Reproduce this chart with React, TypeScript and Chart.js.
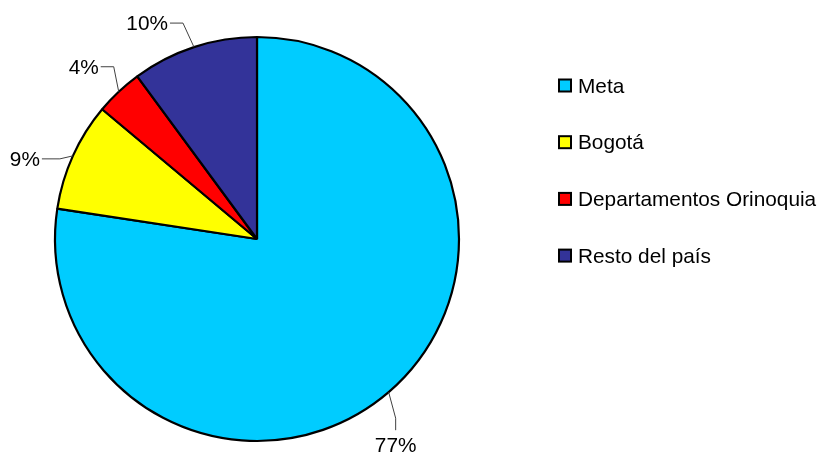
import React, { useEffect, useRef } from "react";
import { Chart, registerables } from "chart.js";

Chart.register(...registerables);

const categories = ["Meta", "Bogotá", "Departamentos Orinoquia", "Resto del país"];
const shares = [77.4, 8.7, 3.8, 10.1];
const percentLabels = ["77%", "9%", "4%", "10%"];
const colors = ["#00CCFF", "#FFFF00", "#FF0000", "#333399"];

// style: leader line geometry relative to slice edge
const leaderStyles = [
  { dx: 7, dy: 26, tail: "down", len: 12 },
  { dx: -13, dy: 3, tail: "left", len: 18 },
  { dx: -5, dy: -25, tail: "left", len: 13 },
  { dx: -11, dy: -24, tail: "left", len: 13 },
];

const FONT = '20.8px "Liberation Sans", Arial, sans-serif';

const labelPlugin = {
  id: "pieLabels",
  afterDraw(chart: any) {
    const ctx = chart.ctx;
    const meta = chart.getDatasetMeta(0);
    ctx.save();
    ctx.font = FONT;
    meta.data.forEach((arc: any, i: number) => {
      const p = arc.getProps(["x", "y", "startAngle", "endAngle", "outerRadius"], true);
      const mid = (p.startAngle + p.endAngle) / 2;
      const ex = p.x + p.outerRadius * Math.cos(mid);
      const ey = p.y + p.outerRadius * Math.sin(mid);
      const s = leaderStyles[i];
      const bx = ex + s.dx;
      const by = ey + s.dy;
      let tx = bx, ty = by;
      if (s.tail === "down") ty = by + s.len;
      else tx = bx - s.len;
      ctx.strokeStyle = "#404040";
      ctx.lineWidth = 1;
      ctx.beginPath();
      ctx.moveTo(ex, ey);
      ctx.lineTo(bx, by);
      ctx.lineTo(tx, ty);
      ctx.stroke();
      ctx.fillStyle = "#000";
      ctx.textBaseline = "alphabetic";
      if (s.tail === "down") {
        ctx.textAlign = "center";
        ctx.fillText(percentLabels[i], tx, ty + 22);
      } else {
        ctx.textAlign = "right";
        ctx.fillText(percentLabels[i], tx - 2, ty + 7);
      }
    });
    ctx.restore();
  },
};

const legendPlugin = {
  id: "sideLegend",
  afterDraw(chart: any) {
    const ctx = chart.ctx;
    ctx.save();
    ctx.font = FONT;
    const x0 = 558;
    const y0 = 85.5;
    const step = 56.7;
    categories.forEach((c, i) => {
      const cy = y0 + i * step;
      ctx.fillStyle = colors[i];
      ctx.fillRect(x0 + 1, cy - 6, 12, 12);
      ctx.strokeStyle = "#000";
      ctx.lineWidth = 2;
      ctx.strokeRect(x0 + 1, cy - 6, 12, 12);
      ctx.fillStyle = "#000";
      ctx.textAlign = "left";
      ctx.textBaseline = "alphabetic";
      ctx.fillText(c, x0 + 20, cy + 7);
    });
    ctx.restore();
  },
};

export default function App() {
  const ref = useRef<HTMLCanvasElement>(null);
  useEffect(() => {
    if (!ref.current) return;
    const chart = new Chart(ref.current, {
      type: "pie",
      data: {
        labels: categories,
        datasets: [
          {
            data: shares,
            backgroundColor: colors,
            borderColor: "#000",
            borderWidth: 2.2,
          },
        ],
      },
      options: {
        animation: false,
        responsive: true,
        maintainAspectRatio: false,
        radius: 202,
        layout: { padding: { left: 0, top: 24, right: 303, bottom: 0 } },
        plugins: {
          legend: { display: false },
          tooltip: { enabled: false },
        },
      } as any,
      plugins: [labelPlugin, legendPlugin],
    });
    return () => chart.destroy();
  }, []);
  return (
    <div style={{ position: "absolute", left: 0, top: 0, width: 817, height: 454, background: "#fff" }}>
      <canvas ref={ref} />
    </div>
  );
}
